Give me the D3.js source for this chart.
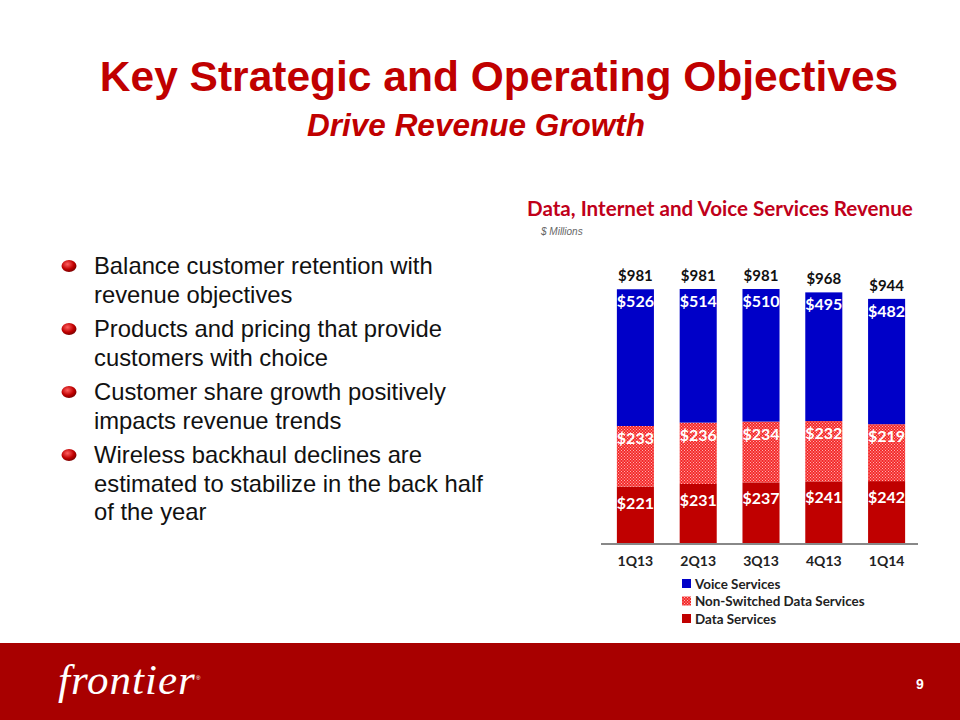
<!DOCTYPE html>
<html><head><meta charset="utf-8">
<script src="https://cdn.jsdelivr.net/npm/d3@7"></script>
<style>body{margin:0;background:#fff}svg{display:block}</style>
</head><body>
<svg id="c" width="960" height="720"></svg>
<script>
const quarters = ["1Q13","2Q13","3Q13","4Q13","1Q14"];
const dataServices = [221,231,237,241,242];
const nonSwitched = [233,236,234,232,219];
const voiceServices = [526,514,510,495,482];
const totals = [981,981,981,968,944];
const seriesNames = ["Voice Services","Non-Switched Data Services","Data Services"];
const bullets = [
  ["Balance customer retention with","revenue objectives"],
  ["Products and pricing that provide","customers with choice"],
  ["Customer share growth positively","impacts revenue trends"],
  ["Wireless backhaul declines are","estimated to stabilize in the back half","of the year"]
];

const svg = d3.select("#c");
const defs = svg.append("defs");
const pat = defs.append("pattern").attr("id","dots").attr("patternUnits","userSpaceOnUse")
  .attr("width",3).attr("height",3);
pat.append("rect").attr("width",3).attr("height",3).attr("fill","#f42a2a");
pat.append("rect").attr("x",0).attr("y",0).attr("width",1).attr("height",1).attr("fill","#ffb0b0");
pat.append("rect").attr("x",1.5).attr("y",1.5).attr("width",1).attr("height",1).attr("fill","#ffc8c8");
const rg = defs.append("radialGradient").attr("id","bul").attr("cx","40%").attr("cy","35%").attr("r","70%");
rg.append("stop").attr("offset","0%").attr("stop-color","#ff6060");
rg.append("stop").attr("offset","60%").attr("stop-color","#c00000");
rg.append("stop").attr("offset","100%").attr("stop-color","#700000");

// Titles
svg.append("text").attr("x",499).attr("y",91).attr("text-anchor","middle")
  .attr("font-family","Liberation Sans, Arial, sans-serif").attr("font-weight","bold")
  .attr("font-size",42.5).attr("fill","#c00000").text("Key Strategic and Operating Objectives");
svg.append("text").attr("x",476).attr("y",136).attr("text-anchor","middle")
  .attr("font-family","Liberation Sans, Arial, sans-serif").attr("font-weight","bold").attr("font-style","italic")
  .attr("font-size",31.5).attr("fill","#c00000").text("Drive Revenue Growth");

// Bullets
let yy = 274;
bullets.forEach(lines => {
  svg.append("ellipse").attr("cx",69).attr("cy",yy-8).attr("rx",7.5).attr("ry",6).attr("fill","url(#bul)");
  lines.forEach((l,i) => {
    svg.append("text").attr("x",94).attr("y",yy + i*28.5)
      .attr("font-family","Liberation Sans, Arial, sans-serif").attr("font-size",23.8).attr("fill","#111").text(l);
  });
  yy += lines.length*28.5 + 6;
});

// Chart
const x = d3.scaleBand().domain(quarters).range([604,918]).paddingInner(0.41).paddingOuter(0.205);
const y = d3.scaleLinear().domain([0,981]).range([544,289]);
const stackData = quarters.map((q,i)=>({q, data:dataServices[i], ns:nonSwitched[i], voice:voiceServices[i]}));
const stack = d3.stack().keys(["data","ns","voice"])(stackData);
const fills = {data:"#c00000", ns:"url(#dots)", voice:"#0000c8"};
const g = svg.append("g");
stack.forEach(layer => {
  g.selectAll(null).data(layer).enter().append("rect")
    .attr("x",d=>x(d.data.q)).attr("width",x.bandwidth())
    .attr("y",d=>y(d[1])).attr("height",d=>y(d[0])-y(d[1]))
    .attr("fill",fills[layer.key]);
  const off = layer.key==="data" ? 22 : 18;
  g.selectAll(null).data(layer).enter().append("text")
    .attr("x",d=>x(d.data.q)+x.bandwidth()/2).attr("y",d=>y(d[1])+off)
    .attr("text-anchor","middle").attr("font-family","Lato, Open Sans, sans-serif").attr("font-weight","bold")
    .attr("font-size",16).attr("fill","#fff").text(d=>"$"+d.data[layer.key]);
});
g.selectAll(null).data(quarters).enter().append("text")
  .attr("x",q=>x(q)+x.bandwidth()/2).attr("y",(q,i)=>y(totals[i])-8)
  .attr("text-anchor","middle").attr("font-family","Lato, Open Sans, sans-serif").attr("font-weight","bold")
  .attr("font-size",15).attr("fill","#111").text((q,i)=>"$"+totals[i]);

const ax = svg.append("g").attr("transform","translate(0,544)").call(d3.axisBottom(x).tickSize(0).tickPadding(12));
ax.select(".domain").attr("d","M601,0H918").attr("stroke","#888").attr("stroke-width",2);
ax.selectAll("text").attr("font-family","Lato, Open Sans, sans-serif").attr("font-weight","bold")
  .attr("font-size",14).attr("fill","#222");

svg.append("text").attr("x",527).attr("y",216).attr("font-family","Lato, Open Sans, sans-serif")
  .attr("font-weight","bold").attr("font-size",20.6).attr("fill","#c0001a").text("Data, Internet and Voice Services Revenue");
svg.append("text").attr("x",541).attr("y",235).attr("font-family","Liberation Sans, Arial, sans-serif")
  .attr("font-style","italic").attr("font-size",10).attr("fill","#666").text("$ Millions");

// Legend
const legFills = ["#0000c8","url(#dots)","#c00000"];
seriesNames.forEach((n,i) => {
  const ly = 584 + i*17.5;
  svg.append("rect").attr("x",682).attr("y",ly-5).attr("width",9).attr("height",9).attr("fill",legFills[i]);
  svg.append("text").attr("x",695).attr("y",ly+4.5).attr("font-family","Lato, Open Sans, sans-serif")
    .attr("font-weight","bold").attr("font-size",13.4).attr("fill","#222").text(n);
});

// Footer
svg.append("rect").attr("x",0).attr("y",643).attr("width",960).attr("height",77).attr("fill","#a80000");
svg.append("text").attr("x",58).attr("y",694).attr("font-family","Liberation Serif, DejaVu Serif, serif")
  .attr("font-style","italic").attr("font-size",43).attr("letter-spacing",1).attr("fill","#fff").text("frontier");
svg.append("text").attr("x",196).attr("y",680).attr("font-family","Liberation Sans, sans-serif")
  .attr("font-size",6).attr("fill","#fff").text("®");
svg.append("text").attr("x",920).attr("y",689).attr("text-anchor","middle").attr("font-family","Liberation Sans, Arial, sans-serif")
  .attr("font-weight","bold").attr("font-size",14).attr("fill","#fff").text("9");
</script>
</body></html>
